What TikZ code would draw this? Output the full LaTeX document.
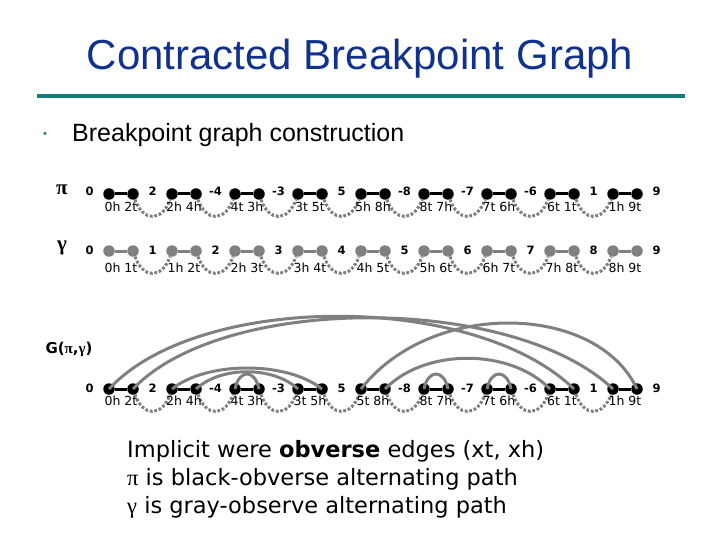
\documentclass[tikz,border=0pt]{standalone}
\usepackage{fontspec}
\setmainfont{Liberation Sans}
\newfontfamily\verd{DejaVu Sans}
\newfontfamily\symb{Liberation Serif}
\usetikzlibrary{positioning}
\definecolor{titleblue}{RGB}{16,50,140}
\definecolor{rulegreen}{RGB}{19,123,123}
\definecolor{edgegray}{RGB}{128,128,128}

\begin{document}
\begin{tikzpicture}
[
   x=1pt, y=-1pt,
   dot/.style={circle, inner sep=0pt, minimum size=11.5pt},
   num/.style={font=\verd\bfseries\fontsize{11.5}{13}\selectfont, inner sep=0pt},
   sub/.style={font=\verd\fontsize{12.5}{14}\selectfont, inner sep=0pt},
   wave/.style={line width=3pt, draw=edgegray, dash pattern=on 2.8pt off 1.8pt},
   arc/.style={line width=3pt, draw=edgegray}]

\useasboundingbox (0,0) rectangle (720,540);

% heading
\node[anchor=base, inner sep=0pt, text=titleblue, font=\fontsize{42}{48}\selectfont] (title) at (360,70) {Contracted Breakpoint Graph};
\draw[rulegreen, line width=4pt] (37,96) -- (685,96);
\node[text=rulegreen, font=\fontsize{11}{12}\selectfont] (bullet) at (45,135) {•};
\node[anchor=base west, inner sep=0pt, font=\fontsize{25}{30}\selectfont] (item) at (72,142) {Breakpoint graph construction};

% row names
\node[font=\symb\bfseries\fontsize{21}{22}\selectfont] (pi) at (62,190) {π};
\node[font=\symb\bfseries\fontsize{21}{22}\selectfont] (gamma) at (62,248) {γ};
\node[font=\verd\bfseries\fontsize{15}{17}\selectfont] (G) at (69,349) {G({\symb π},{\symb γ})};

% dots and black/gray pair edges
\foreach \r/\yy/\c in {p/194/black,q/251/edgegray,g/389/black} {
  \foreach \i in {0,...,8} {
    \pgfmathtruncatemacro\a{2*\i}
    \pgfmathtruncatemacro\b{2*\i+1}
    \node[dot, fill=\c] (\r\a) at (109+63*\i,\yy) {};
    \node[dot, fill=\c] (\r\b) at (133+63*\i,\yy) {};
    \draw[line width=3pt, draw=\c] (\r\a) -- (\r\b);
  }
}

% dotted obverse links
\foreach \r in {p,q,g} {
  \foreach \i in {0,...,7} {
    \pgfmathtruncatemacro\a{2*\i+1}
    \pgfmathtruncatemacro\b{2*\i+2}
    \draw[wave] (\r\a) .. controls +(10,28) and +(-10,28) .. (\r\b);
  }
}

% numbers above
\foreach \v [count=\k from 0] in {0,2,-4,-3,5,-8,-7,-6,1,9}
  \node[num] (pn\k) at (89.5+63*\k,191.5) {\v};
\foreach \v [count=\k from 0] in {0,1,2,3,4,5,6,7,8,9}
  \node[num] (qn\k) at (89.5+63*\k,250) {\v};
\foreach \v [count=\k from 0] in {0,2,-4,-3,5,-8,-7,-6,1,9}
  \node[num] (gn\k) at (89.5+63*\k,388.5) {\v};

% ends below
\foreach \t [count=\k from 0] in {0h 2t,2h 4h,4t 3h,3t 5t,5h 8h,8t 7h,7t 6h,6t 1t,1h 9t}
  \node[sub] (ps\k) at (121+63*\k,207) {\t};
\foreach \t [count=\k from 0] in {0h 1t,1h 2t,2h 3t,3h 4t,4h 5t,5h 6t,6h 7t,7h 8t,8h 9t}
  \node[sub] (qs\k) at (121+63*\k,268) {\t};
\foreach \t [count=\k from 0] in {0h 2t,2h 4h,4t 3h,3t 5h,5t 8h,8t 7h,7t 6h,6t 1t,1h 9t}
  \node[sub] (gs\k) at (121+63*\k,401) {\t};

% gray arcs of G
\draw[arc] (g0.center) .. controls +(90,-97) and +(-100,-97) .. (g15.center);
\draw[arc] (g1.center) .. controls +(90,-95) and +(-100,-95) .. (g16.center);
\draw[arc] (g2.center) .. controls +(35,-28) and +(-35,-28) .. (g7.center);
\draw[arc] (g3.center) .. controls +(25,-23) and +(-25,-23) .. (g6.center);
\draw[arc] (g4.center) .. controls +(4,-20) and +(-4,-20) .. (g5.center);
\draw[arc] (g8.center) .. controls +(70,-90) and +(-40,-86) .. (g17.center);
\draw[arc] (g9.center) .. controls +(40,-41) and +(-40,-41) .. (g14.center);
\draw[arc] (g10.center) .. controls +(4,-20) and +(-4,-20) .. (g11.center);
\draw[arc] (g12.center) .. controls +(4,-20) and +(-4,-20) .. (g13.center);

% notes
\node[anchor=west, align=left, inner sep=0pt, font=\verd\fontsize{22.5}{28}\selectfont] (notes) at (127,479)
  {Implicit were \textbf{obverse} edges (xt, xh)\\
   {\symb π} is black-obverse alternating path\\
   {\symb γ} is gray-observe alternating path};
\end{tikzpicture}
\end{document}
